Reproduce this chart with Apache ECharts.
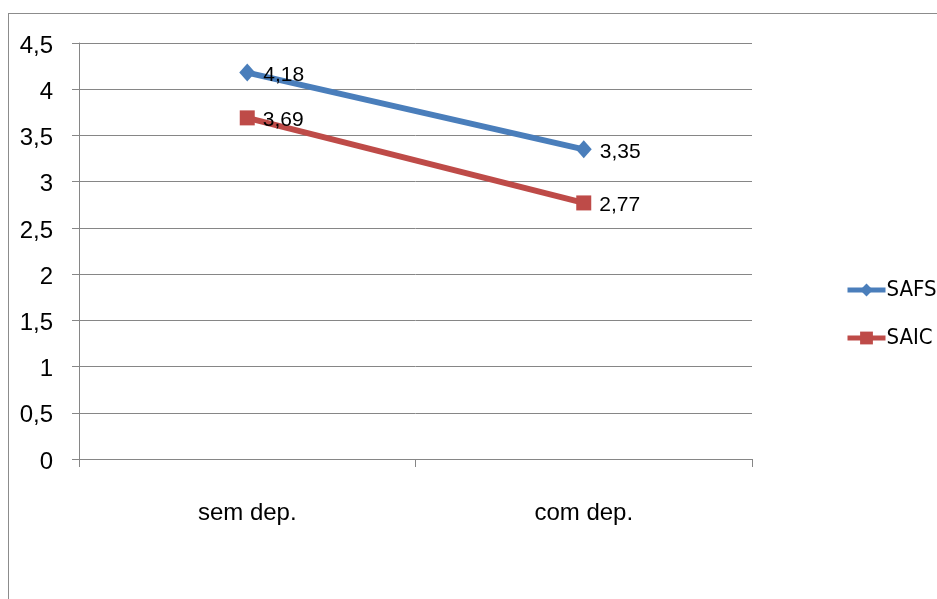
<!DOCTYPE html>
<html>
<head>
<meta charset="utf-8">
<script src="https://cdn.jsdelivr.net/npm/echarts@6/dist/echarts.min.js"></script>
<style>
html,body{margin:0;padding:0;background:#fff;}
#frame{position:absolute;left:8px;top:13px;width:940px;height:600px;border-left:1px solid #8c8c8c;border-top:1px solid #8c8c8c;}
#chart{position:absolute;left:0;top:0;width:937px;height:599px;}
</style>
</head>
<body>
<div id="frame"></div>
<div id="chart"></div>
<script>
const categories = ['sem dep.', 'com dep.'];
const safs = [4.18, 3.35];
const saic = [3.69, 2.77];
const yTicks = { min: 0, max: 4.5, interval: 0.5 };

const FONT = 'Liberation Sans';
const NARROW = '"DejaVu Sans Condensed", "Liberation Sans"';
const fmt = v => String(v).replace('.', ',');

const chart = echarts.init(document.getElementById('chart'), null, { renderer: 'canvas' });
chart.setOption({
  animation: false,
  backgroundColor: 'transparent',
  grid: { left: 79, top: 43, right: 185, bottom: 140, containLabel: false },
  legend: {
    orient: 'vertical', left: 840, top: 274, itemGap: 26,
    itemWidth: 38, itemHeight: 16,
    lineStyle: { width: 5 },
    textStyle: { fontFamily: NARROW, fontSize: 22, color: '#000', padding: [2, 0, 0, -4] },
    data: ['SAFS', 'SAIC']
  },
  xAxis: {
    type: 'category', data: categories, boundaryGap: true,
    axisLine: { lineStyle: { color: '#868686', width: 1 } },
    axisTick: { show: true, length: 8, lineStyle: { color: '#868686' } },
    axisLabel: { fontFamily: FONT, fontSize: 24, color: '#000', margin: 42 }
  },
  yAxis: {
    type: 'value', min: yTicks.min, max: yTicks.max, interval: yTicks.interval,
    axisLine: { show: true, lineStyle: { color: '#868686', width: 1 } },
    axisTick: { show: true, length: 7, lineStyle: { color: '#868686' } },
    splitLine: { lineStyle: { color: '#868686', width: 1 } },
    axisLabel: {
      fontFamily: FONT, fontSize: 24, color: '#000', margin: 26,
      formatter: v => '{a|' + fmt(v) + '}',
      rich: { a: { fontFamily: FONT, fontSize: 24, color: '#000', padding: [6, 0, 0, 0] } }
    }
  },
  series: [
    {
      name: 'SAFS', type: 'line', data: safs,
      symbol: 'diamond', symbolSize: [16, 18],
      lineStyle: { color: '#4A7EBB', width: 6 },
      itemStyle: { color: '#4A7EBB' },
      label: { show: true, position: 'right', distance: 8, offset: [0, 3], fontFamily: FONT, fontSize: 21, color: '#000', formatter: p => fmt(p.value) }
    },
    {
      name: 'SAIC', type: 'line', data: saic,
      symbol: 'rect', symbolSize: 15,
      lineStyle: { color: '#BE4B48', width: 6 },
      itemStyle: { color: '#BE4B48' },
      label: { show: true, position: 'right', distance: 8, offset: [0, 2], fontFamily: FONT, fontSize: 21, color: '#000', formatter: p => fmt(p.value) }
    }
  ]
});
</script>
</body>
</html>
